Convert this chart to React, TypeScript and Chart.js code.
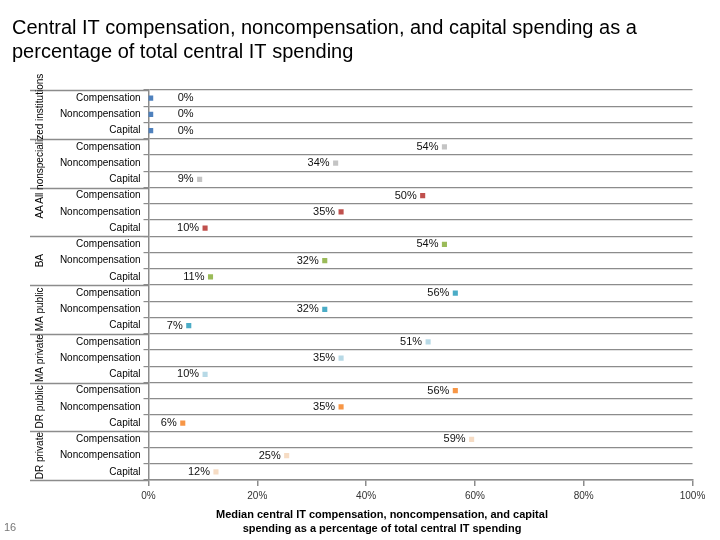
import React, { useEffect, useRef } from "react";
import { Chart, registerables } from "chart.js";

Chart.register(...registerables);

const categories = ["Compensation", "Noncompensation", "Capital"];
const groups = ["", "All nonspecialized institutions", "AA", "BA", "MA public", "MA private", "DR public", "DR private"];
const compensation = [0.4, 54.4, 50.4, 54.4, 56.4, 51.4, 56.4, 59.4];
const noncompensation = [0.4, 34.4, 35.4, 32.4, 32.4, 35.4, 35.4, 25.4];
const capital = [0.4, 9.4, 10.4, 11.4, 7.4, 10.4, 6.3, 12.4];
const groupColors = ["#4f81bd", "#c4c4c4", "#c0504d", "#9bbb59", "#4bacc6", "#b7d9e6", "#f79646", "#f6dcc4"];
const xTicks = [0, 20, 40, 60, 80, 100];

// layout: fractional group index at which each group label is centred
const groupLabelAt = [0, 0.5, 2, 3, 4, 5, 6, 7];

const titleLines = [
  "Central IT compensation, noncompensation, and capital spending as a",
  "percentage of total central IT spending",
];
const axisTitleLines = [
  "Median central IT compensation, noncompensation, and capital",
  "spending as a percentage of total central IT spending",
];
const pageNumber = "16";

const FONT = "'Liberation Sans', Arial, sans-serif";
const GRID = "#8c8c8c";

export default function App() {
  const ref = useRef<HTMLCanvasElement | null>(null);

  useEffect(() => {
    if (!ref.current) return;
    const rowLabels: string[] = [];
    const rowValues: number[] = [];
    const rowColors: string[] = [];
    groups.forEach((_, g) => {
      const vals = [compensation[g], noncompensation[g], capital[g]];
      categories.forEach((c, i) => {
        rowLabels.push(c);
        rowValues.push(vals[i]);
        rowColors.push(groupColors[g]);
      });
    });

    const overlay = {
      id: "overlay",
      afterDraw(chart: any) {
        const ctx = chart.ctx;
        const xs = chart.scales.x;
        const ys = chart.scales.y;
        const area = chart.chartArea;
        ctx.save();
        // title
        ctx.fillStyle = "#000";
        ctx.font = `20px ${FONT}`;
        ctx.textAlign = "left";
        ctx.textBaseline = "middle";
        titleLines.forEach((t, i) => ctx.fillText(t, 12, 28 + i * 24));

        // group separators
        const rowH = ys.getPixelForValue(1) - ys.getPixelForValue(0);
        ctx.strokeStyle = GRID;
        ctx.lineWidth = 1.5;
        for (let g = 0; g <= groups.length; g++) {
          const yb = Math.round(ys.getPixelForValue(g * 3) - rowH / 2) + 0.5;
          ctx.beginPath();
          ctx.moveTo(30, yb);
          ctx.lineTo(area.left, yb);
          ctx.stroke();
        }

        // group labels
        ctx.font = `10px ${FONT}`;
        ctx.fillStyle = "#000";
        ctx.textAlign = "center";
        ctx.textBaseline = "middle";
        groups.forEach((label, g) => {
          if (!label) return;
          const at = groupLabelAt[g];
          const yc = ys.getPixelForValue(at * 3 + 1);
          ctx.save();
          ctx.translate(40, yc);
          ctx.rotate(-Math.PI / 2);
          ctx.fillText(label, 0, 0);
          ctx.restore();
        });

        // data labels
        ctx.font = `11px ${FONT}`;
        ctx.fillStyle = "#111";
        ctx.textBaseline = "middle";
        rowValues.forEach((v, i) => {
          const px = xs.getPixelForValue(v);
          const py = ys.getPixelForValue(i);
          const txt = Math.round(v) + "%";
          if (v < 2) {
            ctx.textAlign = "left";
            ctx.fillText(txt, px + 27, py);
          } else {
            ctx.textAlign = "right";
            ctx.fillText(txt, px - 6, py);
          }
        });

        // axis title
        ctx.font = `bold 11px ${FONT}`;
        ctx.fillStyle = "#000";
        ctx.textAlign = "center";
        axisTitleLines.forEach((t, i) => ctx.fillText(t, 382, 515 + i * 14));

        // page number
        ctx.font = `11px ${FONT}`;
        ctx.fillStyle = "#777";
        ctx.textAlign = "left";
        ctx.fillText(pageNumber, 4, 528);
        ctx.restore();
      },
    };

    const chart = new Chart(ref.current, {
      type: "line",
      data: {
        labels: rowLabels,
        datasets: [
          {
            data: rowValues,
            showLine: false,
            pointStyle: "rect",
            pointRadius: 3.6,
            pointHoverRadius: 3.6,
            pointBackgroundColor: rowColors,
            pointBorderColor: rowColors,
            pointBorderWidth: 0,
          },
        ],
      },
      options: {
        indexAxis: "y",
        responsive: false,
        animation: false,
        layout: { padding: { top: 90, right: 27.5, left: 0, bottom: 0 } },
        plugins: { legend: { display: false }, tooltip: { enabled: false }, title: { display: false } },
        scales: {
          x: {
            type: "linear",
            min: 0,
            max: 100,
            afterBuildTicks: (s: any) => {
              s.ticks = xTicks.map((v) => ({ value: v }));
            },
            ticks: {
              callback: (v: any) => v + "%",
              font: { size: 10, family: FONT },
              color: "#333",
              padding: 4,
              maxRotation: 0,
            },
            grid: { drawOnChartArea: false, drawTicks: true, tickLength: 6, color: GRID, lineWidth: 1.5 },
            border: { color: GRID, width: 1.5 },
            afterFit: (s: any) => {
              s.height = 60;
            },
          },
          y: {
            type: "category",
            offset: true,
            grid: { offset: true, color: GRID, lineWidth: 1.2, tickLength: 5 },
            ticks: { font: { size: 10, family: FONT }, color: "#000", padding: 3, autoSkip: false },
            border: { color: GRID, width: 1.5 },
            afterFit: (s: any) => {
              s.width = 148.5;
            },
          },
        },
      } as any,
      plugins: [overlay],
    });
    return () => chart.destroy();
  }, []);

  return (
    <div style={{ position: "absolute", left: 0, top: 0, width: 720, height: 540, background: "#fff" }}>
      <canvas ref={ref} width={720} height={540} style={{ width: 720, height: 540 }} />
    </div>
  );
}
